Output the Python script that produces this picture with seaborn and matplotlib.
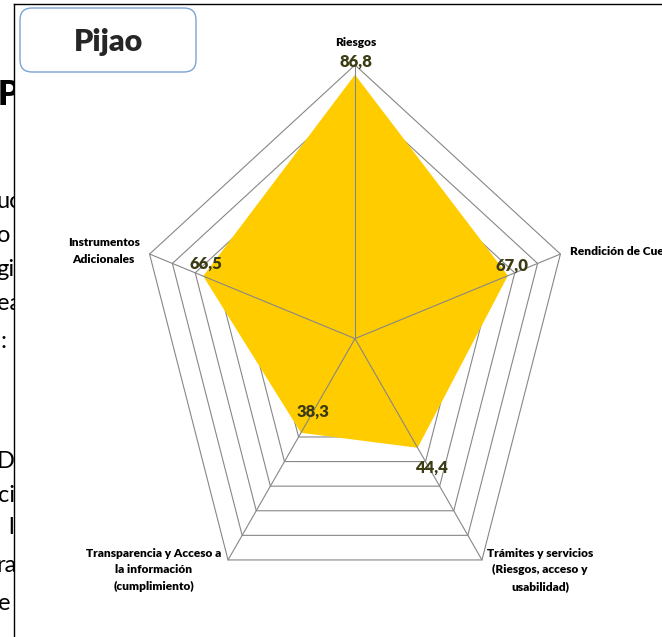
import numpy as np
import pandas as pd
import matplotlib
matplotlib.use("Agg")
import matplotlib.pyplot as plt
import seaborn as sns
from matplotlib.patches import FancyBboxPatch

# data
title = "Pijao"
categories = [
    "Riesgos",
    "Rendición de Cuentas",
    "Trámites y servicios\n(Riesgos, acceso y\nusabilidad)",
    "Transparencia y Acceso a\nla información\n(cumplimiento)",
    "Instrumentos\nAdicionales",
]
values = [86.8, 67.0, 44.4, 38.3, 66.5]
ring_levels = [10, 20, 30, 40, 50, 60, 70, 80, 90]
axis_max = 90

# clipped words from the page behind the chart (text, y px, x px, size, weight)
bg_words = [
    ("P", 95, -2, 24, "heavy"),
    ("uc", 201, -3, 17, "normal"),
    ("o", 236, -3, 17, "normal"),
    ("gi", 269, -4, 17, "normal"),
    ("ea", 304, -3, 17, "normal"),
    (":", 342, 0, 17, "normal"),
    ("De", 462, -3, 17, "normal"),
    ("ci", 495, -2, 17, "normal"),
    ("l", 528, 8, 17, "normal"),
    ("ra", 565, -4, 17, "normal"),
    ("e", 604, -2, 17, "normal"),
]

sns.set_theme(style="white")
plt.rcParams["font.family"] = ["Lato", "DejaVu Sans"]

W, H = 662, 637
fig = plt.figure(figsize=(W / 100, H / 100), dpi=100)
fig.patch.set_facecolor("white")


def px_rect(x0, y0, x1, y1):
    return [x0 / W, 1 - y1 / H, (x1 - x0) / W, (y1 - y0) / H]


for txt, y, x, size, weight in bg_words:
    fig.text(x / W, 1 - y / H, txt, fontsize=size, fontweight=weight,
             ha="left", va="center", color="black", zorder=0)

# chart frame (white, black left/top border), pixel units
fax = fig.add_axes(px_rect(13.5, 3.5, W + 5, H + 5), zorder=1)
fax.set_xlim(13.5, W + 5)
fax.set_ylim(H + 5, 3.5)
fax.set_facecolor("white")
fax.set_xticks([])
fax.set_yticks([])
for side in ["right", "bottom"]:
    fax.spines[side].set_visible(False)
for side in ["left", "top"]:
    fax.spines[side].set_color("black")
    fax.spines[side].set_linewidth(1.0)

box = FancyBboxPatch((20, 8), 176, 64, boxstyle="round,pad=0,rounding_size=12",
                     ec="#7aa2d3", fc="white", lw=1.0)
fax.add_patch(box)
fax.text(108, 42, title, fontsize=22, fontweight="heavy", ha="center", va="center")

# radar axes: box of the outer circle, stretched like the original
cx, cy, rx, ry = 355, 338.6, 216, 273.6
rax = fig.add_axes(px_rect(cx - rx, cy - ry, cx + rx, cy + ry), zorder=2)
rax.axis("off")

angles = np.deg2rad(90 - 72 * np.arange(len(categories)))
cos_a, sin_a = np.cos(angles), np.sin(angles)

rows = []
for lv in ring_levels:
    for k in list(range(len(angles))) + [0]:
        rows.append({"level": lv, "x": lv * cos_a[k], "y": lv * sin_a[k]})
rings = pd.DataFrame(rows)
sns.lineplot(data=rings, x="x", y="y", units="level", estimator=None, sort=False,
             color="#878787", linewidth=0.8, ax=rax, legend=False, zorder=1)
for ln in rax.lines:
    ln.set_clip_on(False)

vals = np.array(values)
rax.fill(vals * cos_a, vals * sin_a, color="#FFCC00", lw=0, zorder=2)

for k in range(len(angles)):
    rax.plot([0, axis_max * cos_a[k]], [0, axis_max * sin_a[k]],
             color="#878787", lw=0.8, zorder=3, clip_on=False)

value_offsets = [(1, 13), (4, 10), (14, -20), (12, 21), (3, 12)]
for k, v in enumerate(values):
    rax.annotate(f"{v:.1f}".replace(".", ","), xy=(v * cos_a[k], v * sin_a[k]),
                 xytext=value_offsets[k], textcoords="offset pixels",
                 ha="center", va="center", fontsize=12, fontweight="heavy",
                 color="#3c3c14", zorder=4, annotation_clip=False)

label_offsets = [(1, 22), (10, 3), (58, -10), (-74, -10), (-46, 3)]
label_ha = ["center", "left", "center", "center", "center"]
for k, cat in enumerate(categories):
    rax.annotate(cat, xy=(axis_max * cos_a[k], axis_max * sin_a[k]),
                 xytext=label_offsets[k], textcoords="offset pixels",
                 ha=label_ha[k], va="center", fontsize=8.6, fontweight="heavy",
                 color="black", linespacing=1.58, annotation_clip=False)

rax.set_xlim(-axis_max, axis_max)
rax.set_ylim(-axis_max, axis_max)

fig.savefig("out.png", dpi=100, facecolor="white")
